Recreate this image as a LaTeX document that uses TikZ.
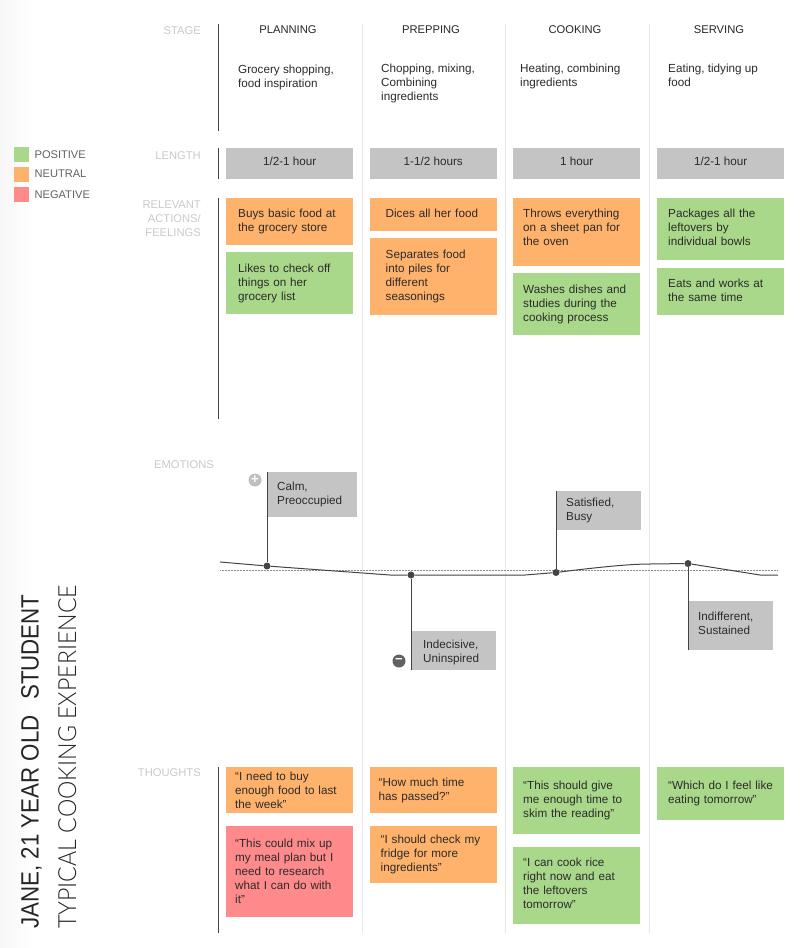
\documentclass[tikz,border=0pt]{standalone}
\usepackage{fontspec}
\setmainfont{Liberation Sans}
\newfontfamily\lightfont{Lato Light}
\usetikzlibrary{positioning}
\definecolor{posgreen}{HTML}{A9D88A}
\definecolor{neutorange}{HTML}{FFB26B}
\definecolor{negred}{HTML}{FF8A8C}
\definecolor{flaggray}{HTML}{C4C4C4}
\definecolor{ruledark}{HTML}{444444}
\definecolor{rulelight}{HTML}{E8E8E8}
\definecolor{labelgray}{HTML}{C9C9C9}
\definecolor{inkgray}{HTML}{2B2B2B}
\newcommand{\nudgeup}[1]{\par\vspace{#1}}
\tikzset{
    cardbox/.style={anchor=north west, inner xsep=#1, inner ysep=0pt, text width=127pt-2*#1, align=left,
        font=\fontsize{11.7}{14}\selectfont, text=inkgray},
    cardbox/.default=12pt,
    rowlabel/.style={anchor=north east, align=right, inner sep=0pt, text=labelgray, font=\fontsize{11.2}{14}\selectfont},
    stagehead/.style={inner sep=0pt, text=black!85, font=\fontsize{11.2}{14}\selectfont},
    stagetext/.style={anchor=north west, inner sep=0pt, align=left, text=inkgray, font=\fontsize{11.7}{14}\selectfont},
    lengthbox/.style={anchor=north west, fill=flaggray, minimum width=127pt, minimum height=31pt, inner sep=0pt,
        text height=9pt, text depth=5pt, text=inkgray, font=\fontsize{11.7}{14}\selectfont},
    legendbox/.style={anchor=north west, minimum size=15pt, inner sep=0pt},
    legendtext/.style={inner sep=0pt, text=black!62, font=\fontsize{11.1}{14}\selectfont},
    flagbox/.style={anchor=north west, fill=flaggray, inner xsep=10pt, inner ysep=0pt, align=left, text=inkgray,
        font=\fontsize{11.7}{14}\selectfont},
    moodpoint/.style={circle, fill=ruledark, minimum size=7pt, inner sep=0pt},
    signdot/.style={circle, minimum size=13pt, inner sep=0pt, text=white, font=\bfseries\fontsize{13}{13}\selectfont},
    darkrule/.style={ruledark, line width=1pt},
    lightrule/.style={rulelight, line width=1pt},
    pole/.style={ruledark, line width=1pt},
}
\begin{document}
\begin{tikzpicture}[x=1pt,y=-1pt]
    \useasboundingbox (0,0) rectangle (806,948);
    \shade[left color=black!3, right color=white] (0,0) rectangle (36,948);

    \draw[lightrule] (362,24) -- (362,933);
    \draw[lightrule] (505,24) -- (505,933);
    \draw[lightrule] (649,24) -- (649,933);
    \draw[darkrule] (218,24) -- (218,131);
    \draw[darkrule] (218,148) -- (218,179);
    \draw[darkrule] (218,198) -- (218,419);
    \draw[darkrule] (218,767) -- (218,933);

    \node[legendbox, fill=posgreen] (legpos) at (14,146.5) {};
    \node[legendbox, fill=neutorange] (legneut) at (14,166.5) {};
    \node[legendbox, fill=negred] (legneg) at (14,186.5) {};
    \node[legendtext, right=5pt of legpos] (legposlabel) {POSITIVE};
    \node[legendtext, right=5pt of legneut] (legneutlabel) {NEUTRAL};
    \node[legendtext, right=5pt of legneg] (legneglabel) {NEGATIVE};

    \node[rowlabel] (rowstage) at (201,26) {STAGE};
    \node[rowlabel] (rowlength) at (201,151) {LENGTH};
    \node[rowlabel] (rowactions) at (201,201) {RELEVANT\\ACTIONS/\\FEELINGS};
    \node[rowlabel] (rowemotions) at (214,460) {EMOTIONS};
    \node[rowlabel] (rowthoughts) at (201,768) {THOUGHTS};

    \node[stagehead] (headplan) at (288,30) {PLANNING};
    \node[stagehead] (headprep) at (431,30) {PREPPING};
    \node[stagehead] (headcook) at (575,30) {COOKING};
    \node[stagehead] (headserve) at (719,30) {SERVING};

    \node[stagetext] (descplan) at (238,65) {Grocery shopping,\\food inspiration};
    \node[stagetext] (descprep) at (381,64) {Chopping, mixing,\\Combining\\ingredients};
    \node[stagetext] (desccook) at (520,64) {Heating, combining\\ingredients};
    \node[stagetext] (descserve) at (668,64) {Eating, tidying up\\food};

    \node[lengthbox] (lenplan) at (226,148) {1/2-1 hour\hspace{4pt}};
    \node[lengthbox] (lenprep) at (369.5,148) {1-1/2 hours\hspace{8pt}};
    \node[lengthbox] (lencook) at (513,148) {1 hour};
    \node[lengthbox] (lenserve) at (657,148) {1/2-1 hour\hspace{3pt}};

    \node[cardbox, fill=neutorange, minimum height=47pt] (actplana) at (226,198) {Buys basic food at\\the grocery store};
    \node[cardbox, fill=posgreen, minimum height=62pt] (actplanb) at (226,252) {Likes to check off\\things on her\\grocery list};
    \node[cardbox=16pt, fill=neutorange, minimum height=33pt] (actprepa) at (369.5,198) {Dices all her food\nudgeup{2pt}};
    \node[cardbox=16pt, fill=neutorange, minimum height=77pt] (actprepb) at (369.5,238) {Separates food\\into piles for\\different\\seasonings};
    \node[cardbox=10pt, fill=neutorange, minimum height=68pt] (actcooka) at (513,198) {Throws everything\\on a sheet pan for\\the oven\nudgeup{10pt}};
    \node[cardbox=10pt, fill=posgreen, minimum height=62pt] (actcookb) at (513,273) {Washes dishes and\\studies during the\\cooking process};
    \node[cardbox=11pt, fill=posgreen, minimum height=62pt] (actservea) at (657,198) {Packages all the\\leftovers by\\individual bowls\nudgeup{4pt}};
    \node[cardbox=11pt, fill=posgreen, minimum height=47pt] (actserveb) at (657,268) {Eats and works at\\the same time\nudgeup{2pt}};

    \draw[black!45, line width=0.5pt, densely dotted] (220,570) -- (778,570);
    \node[moodpoint] (moodplan) at (267,566) {};
    \node[moodpoint] (moodprep) at (411,575) {};
    \node[moodpoint] (moodcook) at (556,572.5) {};
    \node[moodpoint] (moodserve) at (688,563.5) {};
    \draw[ruledark, line width=1pt] (220,562) -- (moodplan) -- (390,575) -- (moodprep) -- (525,575) -- (moodcook)
        .. controls (600,567) and (630,564) .. (650,564) -- (moodserve) -- (760,575) -- (778,575);

    \node[flagbox, text width=70pt, minimum height=45pt] (flagplan) at (267,472) {Calm,\\Preoccupied};
    \node[flagbox, text width=65pt, minimum height=39pt] (flagcook) at (556,491) {Satisfied,\\Busy};
    \node[flagbox, inner xsep=12pt, text width=61pt, minimum height=39pt] (flagprep) at (411,631) {Indecisive,\\Uninspired\nudgeup{-3pt}};
    \node[flagbox, text width=65pt, minimum height=49pt] (flagserve) at (688,601) {Indifferent,\\Sustained\nudgeup{4pt}};
    \draw[pole] (moodplan) -- (flagplan.north west);
    \draw[pole] (moodcook) -- (flagcook.north west);
    \draw[pole] (moodprep) -- (flagprep.south west);
    \draw[pole] (moodserve) -- (flagserve.south west);
    \node[signdot, fill=black!25] (signplus) at (255,480) {+};
    \node[signdot, fill=black!62] (signminus) at (399,661) {\textminus};

    \node[cardbox=9pt, fill=neutorange, minimum height=46pt] (thplana) at (226,767) {“I need to buy\\enough food to last\\the week”};
    \node[cardbox=9pt, fill=negred, minimum height=91pt] (thplanb) at (226,826) {“This could mix up\\my meal plan but I\\need to research\\what I can do with\\it”};
    \node[cardbox=9pt, fill=neutorange, minimum height=46pt] (thprepa) at (369.5,767) {“How much time\\has passed?”};
    \node[cardbox=11pt, fill=neutorange, minimum height=57pt] (thprepb) at (369.5,826) {“I should check my\\fridge for more\\ingredients”};
    \node[cardbox=10pt, fill=posgreen, minimum height=67pt] (thcooka) at (513,767) {“This should give\\me enough time to\\skim the reading”};
    \node[cardbox=10pt, fill=posgreen, minimum height=77pt] (thcookb) at (513,847) {“I can cook rice\\right now and eat\\the leftovers\\tomorrow”\nudgeup{4pt}};
    \node[cardbox=11pt, fill=posgreen, minimum height=53pt] (thservea) at (657,767) {\mbox{“Which do I feel like}\\eating tomorrow”};

    \node[rotate=90, xscale=0.893, anchor=base west, inner sep=0pt, text=black!85, font=\fontsize{25}{25}\selectfont] (titlename) at (38.5,929) {JANE, 21 YEAR OLD\hspace{0.7em}STUDENT};
    \node[rotate=90, xscale=0.927, anchor=base west, inner sep=0pt, text=black!85, font=\lightfont\fontsize{25}{25}\selectfont] (titlesub) at (76,929) {TYPICAL COOKING EXPERIENCE};
\end{tikzpicture}
\end{document}
